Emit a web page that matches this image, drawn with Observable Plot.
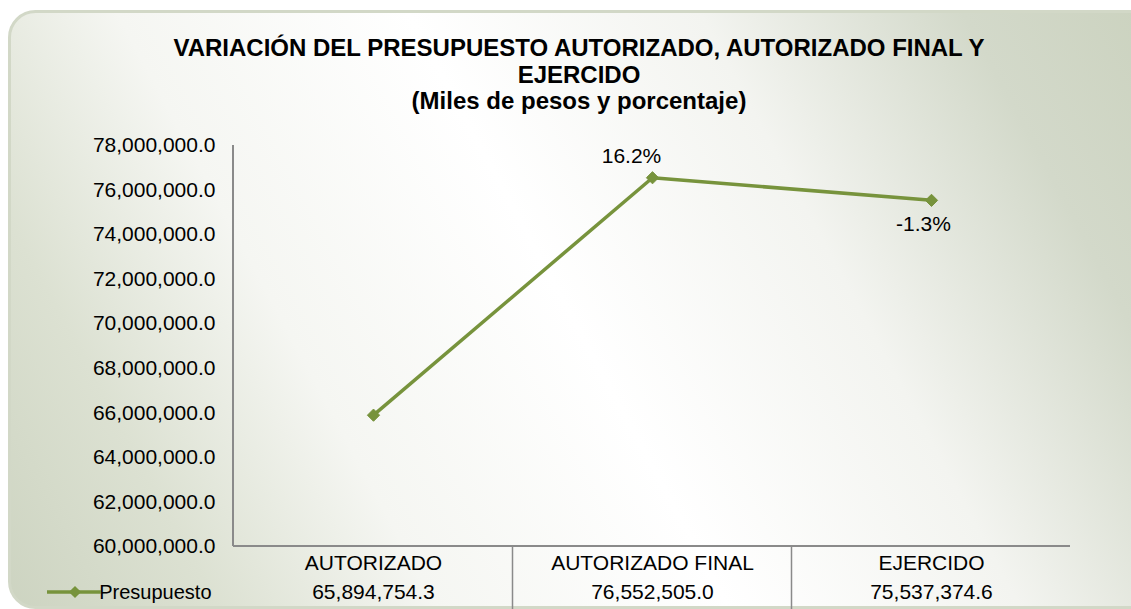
<!DOCTYPE html>
<html><head><meta charset="utf-8">
<script src="https://cdn.jsdelivr.net/npm/d3@7"></script>
<script src="https://cdn.jsdelivr.net/npm/@observablehq/plot@0.6"></script>
<style>
html,body{margin:0;padding:0;background:#fff;}
#chart svg{display:block;}
</style></head><body><div id="chart"></div>
<script>
// ---- data ----
const categories = ["AUTORIZADO", "AUTORIZADO FINAL", "EJERCIDO"];
const values = [65894754.3, 76552505.0, 75537374.6];
const valueLabels = ["65,894,754.3", "76,552,505.0", "75,537,374.6"];
const pctLabels = ["", "16.2%", "-1.3%"];
const yTicks = [60000000, 62000000, 64000000, 66000000, 68000000, 70000000, 72000000, 74000000, 76000000, 78000000];
const seriesName = "Presupuesto";
const titleLines = ["VARIACIÓN DEL PRESUPUESTO AUTORIZADO, AUTORIZADO FINAL Y", "EJERCIDO", "(Miles de pesos y porcentaje)"];

const data = categories.map((c, i) => ({cat: c, value: values[i], label: valueLabels[i], pct: pctLabels[i]}));
const green = "#77933c";
const font = "'Liberation Sans', Arial, sans-serif";

const plot = Plot.plot({
  width: 1131, height: 609,
  marginLeft: 233, marginRight: 61, marginTop: 145, marginBottom: 63,
  style: {fontFamily: font, fontSize: "21px", color: "#000", background: "white"},
  x: {type: "point", domain: categories, padding: 0.5, axis: null},
  y: {domain: [60000000, 78000000], ticks: yTicks, tickFormat: d3.format(",.1f"), tickSize: 0, tickPadding: 18, label: null},
  marks: [
    Plot.line(data, {x: "cat", y: "value", stroke: green, strokeWidth: 3.5}),
    Plot.dot(data, {x: "cat", y: "value", symbol: "diamond2", r: 5.5, fill: green, stroke: green, strokeWidth: 1}),
    Plot.text(data.filter(d => d.pct.startsWith("1")), {x: "cat", y: "value", text: "pct", dx: -21, dy: -21, fontSize: 21, fill: "#000"}),
    Plot.text(data.filter(d => d.pct.startsWith("-")), {x: "cat", y: "value", text: "pct", dx: -8, dy: 24, fontSize: 21, fill: "#000"}),
    // data table
    Plot.text(data, {x: "cat", text: "cat", frameAnchor: "bottom", dy: 23, fontSize: 21, fill: "#000"}),
    Plot.text(data, {x: "cat", text: "label", frameAnchor: "bottom", dy: 52, fontSize: 21, fill: "#000"}),
    Plot.text([seriesName], {text: d => d, frameAnchor: "bottom-left", dx: -22, dy: 52, textAnchor: "end", fontSize: 20, fill: "#000"}),
    // title
    Plot.text([titleLines.join("\n")], {text: d => d, frameAnchor: "top", lineAnchor: "top", dx: -73, dy: -108, fontSize: 24, fontWeight: "bold", lineHeight: 1.1, fill: "#000"})
  ]
});

const svg = d3.select(plot);
const W = 1131, H = 609;
const xs = plot.scale("x"), ys = plot.scale("y");
const left = xs.range[0], right = xs.range[1];
const step = xs.apply(categories[1]) - xs.apply(categories[0]);
const yBottom = ys.apply(60000000), yTop = ys.apply(78000000);

// background frame with gradient
svg.insert("rect", ":first-child")
  .attr("x", 9.5).attr("y", 11.5).attr("width", 1150).attr("height", 596).attr("rx", 26)
  .attr("fill", "url(#bgGrad)").attr("stroke", "#d2d8c7").attr("stroke-width", 3);
const defs = svg.insert("defs", ":first-child");
const g = defs.append("linearGradient").attr("id", "bgGrad").attr("gradientUnits", "userSpaceOnUse")
  .attr("x1", W).attr("y1", 0).attr("x2", 0).attr("y2", H);
[[0, "#ccd3c0"], [0.12, "#d3d9ca"], [0.3, "#f3f4f0"], [0.5, "#ffffff"], [0.7, "#f5f6f2"], [0.85, "#dce1d2"], [1, "#ccd3c0"]]
  .forEach(([o, c]) => g.append("stop").attr("offset", o).attr("stop-color", c));

// axis lines and table separators
const deco = svg.append("g").attr("stroke", "#8a8a8a").attr("fill", "none");
deco.append("line").attr("x1", left).attr("x2", left).attr("y1", yTop).attr("y2", yBottom).attr("stroke-width", 2);
deco.append("line").attr("x1", left).attr("x2", right).attr("y1", yBottom).attr("y2", yBottom).attr("stroke-width", 2);
categories.slice(0, -1).forEach(c => {
  const sx = xs.apply(c) + step / 2;
  deco.append("line").attr("x1", sx).attr("x2", sx).attr("y1", yBottom).attr("y2", H).attr("stroke-width", 1.5);
});

// legend swatch in table
const ly = yBottom + 46;
svg.append("line").attr("x1", left - 186).attr("x2", left - 132).attr("y1", ly).attr("y2", ly)
  .attr("stroke", green).attr("stroke-width", 3.5);
svg.append("path").attr("d", d3.symbol(d3.symbolDiamond2, 5.5 * 5.5 * Math.PI)())
  .attr("transform", `translate(${left - 158},${ly})`).attr("fill", green);

document.getElementById("chart").appendChild(plot);
</script></body></html>
